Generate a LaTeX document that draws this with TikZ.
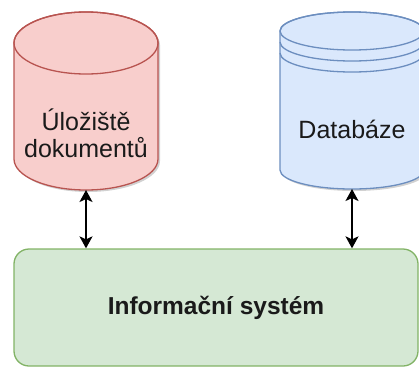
\documentclass[tikz,border=0pt]{standalone}
\usepackage{fontspec}
\setmainfont{Liberation Sans}
\usetikzlibrary{arrows.meta,shadows}
\definecolor{redfill}{HTML}{F8CECC}
\definecolor{redline}{HTML}{B85450}
\definecolor{bluefill}{HTML}{DAE8FC}
\definecolor{blueline}{HTML}{6C8EBF}
\definecolor{greenfill}{HTML}{D5E8D4}
\definecolor{greenline}{HTML}{82B366}
\definecolor{ink}{HTML}{1A1A1A}
\tikzset{
  softshadow/.style={drop shadow={shadow xshift=2pt, shadow yshift=-2pt, opacity=0.18, fill=black}},
  storebody/.style={fill=redfill, draw=redline, line width=1.3pt},
  dbbody/.style={fill=bluefill, draw=blueline, line width=1.3pt},
  label/.style={text=ink, align=center, font=\fontsize{25}{27}\selectfont},
  sysbox/.style={draw=greenline, fill=greenfill, line width=1.3pt, rounded corners=15pt,
    minimum width=404pt, minimum height=117pt, text=ink,
    font=\fontsize{24.5}{27}\selectfont\bfseries},
  tipshape/.style={Stealth[length=12pt,width=13pt,inset=3pt]},
  link/.style={draw=black, line width=1.8pt, {Stealth[length=12pt,width=13pt,inset=3pt]}-{Stealth[length=12pt,width=13pt,inset=3pt]}}
}
\begin{document}
\begin{tikzpicture}[x=1pt,y=-1pt]
\useasboundingbox (0,0) rectangle (419,367);
\begin{scope}
\clip (0,0) rectangle (419,367);

% document store: plain cylinder
\path[storebody, softshadow]
  (14,43) -- (14,159) arc[start angle=180, end angle=0, x radius=72, y radius=31]
  -- (158,43) arc[start angle=0, end angle=-180, x radius=72, y radius=31] -- cycle;
\draw[redline, line width=1.3pt] (86,43) ellipse [x radius=72, y radius=31];
\node[label] (store) at (86,133) {Úložiště\\dokumentů};
\coordinate (storebase) at (86,190);

% database: data store cylinder with extra rims
\path[dbbody, softshadow]
  (280,31) -- (280,170) arc[start angle=180, end angle=0, x radius=72, y radius=19]
  -- (424,31) arc[start angle=0, end angle=-180, x radius=72, y radius=19] -- cycle;
\draw[blueline, line width=1.3pt] (352,31) ellipse [x radius=72, y radius=19];
\draw[blueline, line width=1.3pt]
  (280,42) arc[start angle=180, end angle=0, x radius=72, y radius=19];
\draw[blueline, line width=1.3pt]
  (280,53) arc[start angle=180, end angle=0, x radius=72, y radius=19];
\node[label] (db) at (352,129) {Databáze};
\coordinate (dbbase) at (352,189);

% information system
\node[sysbox] (is) at (216,307.5) {Informační systém};

% links
\draw[link] (storebase) -- (storebase |- is.north);
\draw[link] (dbbase) -- (dbbase |- is.north);
\end{scope}
\end{tikzpicture}
\end{document}
